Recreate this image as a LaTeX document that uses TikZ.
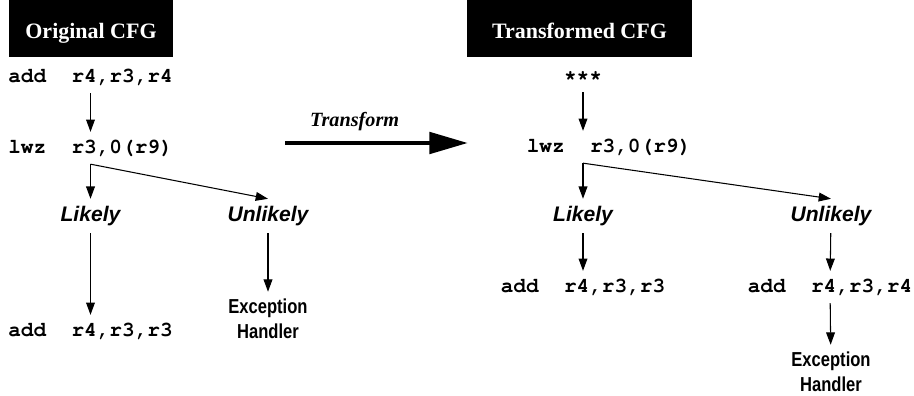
\documentclass[tikz,border=0pt]{standalone}
\usepackage[T1]{fontenc}
\usepackage{fontspec}
\setmainfont{Liberation Serif}
\setsansfont{Liberation Sans}
\setmonofont{Liberation Mono}
\newfontfamily\narrowsans[FakeStretch=0.82]{Liberation Sans}
\newcommand\courbf{\fontencoding{T1}\fontfamily{pcr}\fontseries{b}\fontsize{12}{14}\selectfont}
\usetikzlibrary{arrows.meta,positioning,calc}

\begin{document}
\begin{tikzpicture}[
  title/.style={rectangle, fill=black, text=white, minimum height=1.14cm, text height=11.5pt, text depth=0pt, font=\fontsize{12.5}{14}\selectfont\bfseries},
  code/.style={inner sep=4pt, text height=8pt, text depth=2pt, font=\courbf},
  prob/.style={inner sep=4pt, font=\fontsize{12}{14}\selectfont\sffamily\bfseries\itshape},
  handler/.style={inner sep=4pt, align=center, font=\fontsize{11.5}{14.2}\selectfont\narrowsans\bfseries},
  arrow/.style={-{Triangle[length=7pt,width=5pt]}, line width=0.6pt},
  bigarrow/.style={-{Triangle[length=22pt,width=12pt]}, line width=2.8pt}
]
  \useasboundingbox (0,0) rectangle (18.28,-7.92);
  % original CFG
  \node[title, minimum width=3.28cm] (orig) at (1.82,-0.57) {Original CFG};
  \node[code] (add1) at (1.81,-1.54) {add\ \ r4,r3,r4};
  \node[code] (lwz1) at (1.81,-2.96) {lwz\ \ r3,0(r9)};
  \node[prob] (likely1) at (1.81,-4.32) {Likely};
  \node[prob] (unlikely1) at (5.36,-4.32) {Unlikely};
  \node[code] (add2) at (1.81,-6.62) {add\ \ r4,r3,r3};
  \node[handler] (exc1) at (5.36,-6.38) {Exception\\Handler};
  \draw[arrow] (add1) -- (lwz1);
  \draw[arrow] (lwz1.south) -- (likely1.north);
  \draw[arrow] (lwz1.south) -- (unlikely1.north);
  \draw[arrow] (likely1) -- (add2);
  \draw[arrow] (unlikely1) -- (exc1);
  % transform
  \coordinate (tfrom) at (5.7,-2.86);
  \coordinate (tto) at (9.36,-2.86);
  \draw[bigarrow] (tfrom) -- (tto) node[pos=0.38, above=2pt, font=\fontsize{11.5}{14}\selectfont\bfseries\itshape] {Transform};
  % transformed CFG
  \node[title, minimum width=4.5cm] (trans) at (11.59,-0.57) {Transformed CFG};
  \node[code] (stars) at (11.66,-1.52) {***};
  \node[code] (lwz2) at (12.18,-2.94) {lwz\ \ r3,0(r9)};
  \coordinate (split) at (stars |- lwz2.south);
  \node[prob] (likely2) at (11.66,-4.32) {Likely};
  \node[prob] (unlikely2) at (16.62,-4.32) {Unlikely};
  \node[code] (add3) at (11.66,-5.74) {add\ \ r4,r3,r3};
  \node[code] (add4) at (16.6,-5.74) {add\ \ r4,r3,r4};
  \node[handler] (exc2) at (16.62,-7.44) {Exception\\Handler};
  \draw[arrow] (stars) -- (stars |- lwz2.north);
  \draw[arrow] (split) -- (likely2.north);
  \draw[arrow] (split) -- (unlikely2.north);
  \draw[arrow] (likely2) -- (add3);
  \draw[arrow] (unlikely2) -- (add4);
  \draw[arrow] (add4) -- (exc2);
\end{tikzpicture}
\end{document}
